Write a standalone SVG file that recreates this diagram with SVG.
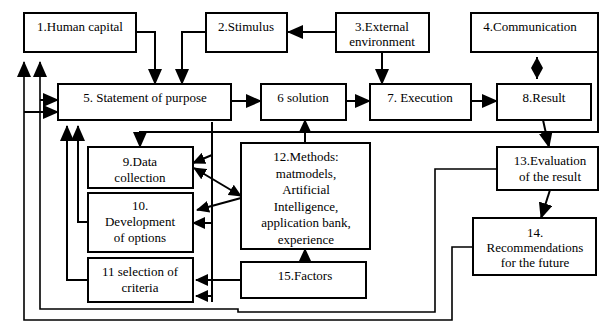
<svg xmlns="http://www.w3.org/2000/svg" width="601" height="322" viewBox="0 0 601 322">
<style>
.box{fill:#fff;stroke:#000;stroke-width:2}
.t{font-family:"Liberation Serif","Times New Roman",serif;font-size:13px;fill:#000;text-anchor:middle}
.c{fill:none;stroke:#000;stroke-width:2}
.c2{fill:none;stroke:#000;stroke-width:1.6}
</style>
<defs>
<marker id="ah" markerUnits="userSpaceOnUse" viewBox="0 0 16 14" markerWidth="16" markerHeight="14" refX="15" refY="7" orient="auto"><path d="M0,0 L16,7 L0,14 z" fill="#000"/></marker>
<marker id="as" markerUnits="userSpaceOnUse" viewBox="0 0 13 12" markerWidth="13" markerHeight="12" refX="12" refY="6" orient="auto-start-reverse"><path d="M0,0 L13,6 L0,12 z" fill="#000"/></marker>
<marker id="ad" markerUnits="userSpaceOnUse" viewBox="0 0 11 12" markerWidth="11" markerHeight="12" refX="11" refY="6" orient="auto-start-reverse"><path d="M0,0 L11,6 L0,12 z" fill="#000"/></marker>
</defs>
<rect width="601" height="322" fill="#fff"/>
<g id="connectors">
<path class="c" d="M136,32 H155 V84" marker-end="url(#ah)"/>
<path class="c" d="M206,32 H182 V84" marker-end="url(#ah)"/>
<path class="c" d="M336,32 H288" marker-end="url(#ah)"/>
<path class="c" d="M382,52 V84" marker-end="url(#ah)"/>
<line class="c" x1="537" y1="57" x2="537" y2="79" marker-start="url(#ad)" marker-end="url(#ad)"/>
<path class="c" d="M231,101 H261" marker-end="url(#ah)"/>
<path class="c" d="M346,101 H370" marker-end="url(#ah)"/>
<path class="c" d="M471,101 H497" marker-end="url(#ah)"/>
<path class="c" d="M543,120 L549,147" marker-end="url(#ah)"/>
<path class="c" d="M550,190 L541,218" marker-end="url(#ah)"/>
<path class="c" d="M598,52 V132 H140 V147" marker-end="url(#ah)"/>
<path class="c" d="M305,143 V120" marker-end="url(#as)"/>
<path class="c" d="M305,262 V249" marker-end="url(#as)"/>
<path class="c" d="M212,122 V302"/>
<path class="c" d="M212,155 L193,163" marker-end="url(#as)"/>
<path class="c" d="M194,168 L241,196" marker-start="url(#as)" marker-end="url(#as)"/>
<path class="c" d="M241,198 L197,210" marker-end="url(#as)"/>
<path class="c" d="M212,223 L193,223" marker-end="url(#as)"/>
<path class="c" d="M241,280 H196" marker-end="url(#as)"/>
<path class="c" d="M212,296 H196" marker-end="url(#as)"/>
<path class="c" d="M88,280 H67 V126" marker-end="url(#ah)"/>
<path class="c" d="M88,222 H78 V126" marker-end="url(#ah)"/>
<path class="c2" d="M497,169 H435 V312 H238 V309 H40 V62" marker-end="url(#ah)"/>
<path class="c2" d="M473,247 H452 V320 H24 V62" marker-end="url(#ah)"/>
<path class="c" d="M40,100 H58" marker-end="url(#ah)"/>
<path class="c" d="M24,112 H58" marker-end="url(#ah)"/>
</g>
<g id="n1"><rect class="box" x="24" y="13" width="112" height="39"/><text class="t" x="80" y="31">1.Human capital</text></g>
<g id="n2"><rect class="box" x="206" y="13" width="81" height="39"/><text class="t" x="246" y="31">2.Stimulus</text></g>
<g id="n3"><rect class="box" x="336" y="13" width="93" height="39"/><text class="t" x="382" y="31">3.External</text><text class="t" x="382" y="46">environment</text></g>
<g id="n4"><rect class="box" x="471" y="13" width="127" height="39"/><text class="t" x="530" y="31">4.Communication</text></g>
<g id="n5"><rect class="box" x="58" y="84" width="173" height="36"/><text class="t" x="145" y="102">5. Statement of purpose</text></g>
<g id="n6"><rect class="box" x="261" y="84" width="85" height="36"/><text class="t" x="303" y="102">6 solution</text></g>
<g id="n7"><rect class="box" x="370" y="84" width="101" height="36"/><text class="t" x="420" y="102">7. Execution</text></g>
<g id="n8"><rect class="box" x="497" y="84" width="94" height="36"/><text class="t" x="544" y="102">8.Result</text></g>
<g id="n9"><rect class="box" x="88" y="147" width="105" height="41"/><text class="t" x="140" y="166">9.Data</text><text class="t" x="140" y="182">collection</text></g>
<g id="n10"><rect class="box" x="88" y="193" width="105" height="59"/><text class="t" x="140" y="210">10.</text><text class="t" x="140" y="226">Development</text><text class="t" x="140" y="242">of options</text></g>
<g id="n11"><rect class="box" x="88" y="258" width="105" height="44"/><text class="t" x="140" y="276">11 selection of</text><text class="t" x="140" y="292">criteria</text></g>
<g id="n12"><rect class="box" x="241" y="143" width="129" height="106"/><text class="t" x="306" y="161">12.Methods:</text><text class="t" x="306" y="177.5">matmodels,</text><text class="t" x="306" y="194">Artificial</text><text class="t" x="306" y="210.5">Intelligence,</text><text class="t" x="306" y="227">application bank,</text><text class="t" x="306" y="243.5">experience</text></g>
<g id="n15"><rect class="box" x="241" y="262" width="125" height="36"/><text class="t" x="305" y="280">15.Factors</text></g>
<g id="n13"><rect class="box" x="497" y="147" width="101" height="43"/><text class="t" x="550" y="165">13.Evaluation</text><text class="t" x="550" y="181">of the result</text></g>
<g id="n14"><rect class="box" x="473" y="218" width="123" height="57"/><text class="t" x="535" y="237">14.</text><text class="t" x="535" y="252">Recommendations</text><text class="t" x="535" y="267">for the future</text></g>
</svg>
